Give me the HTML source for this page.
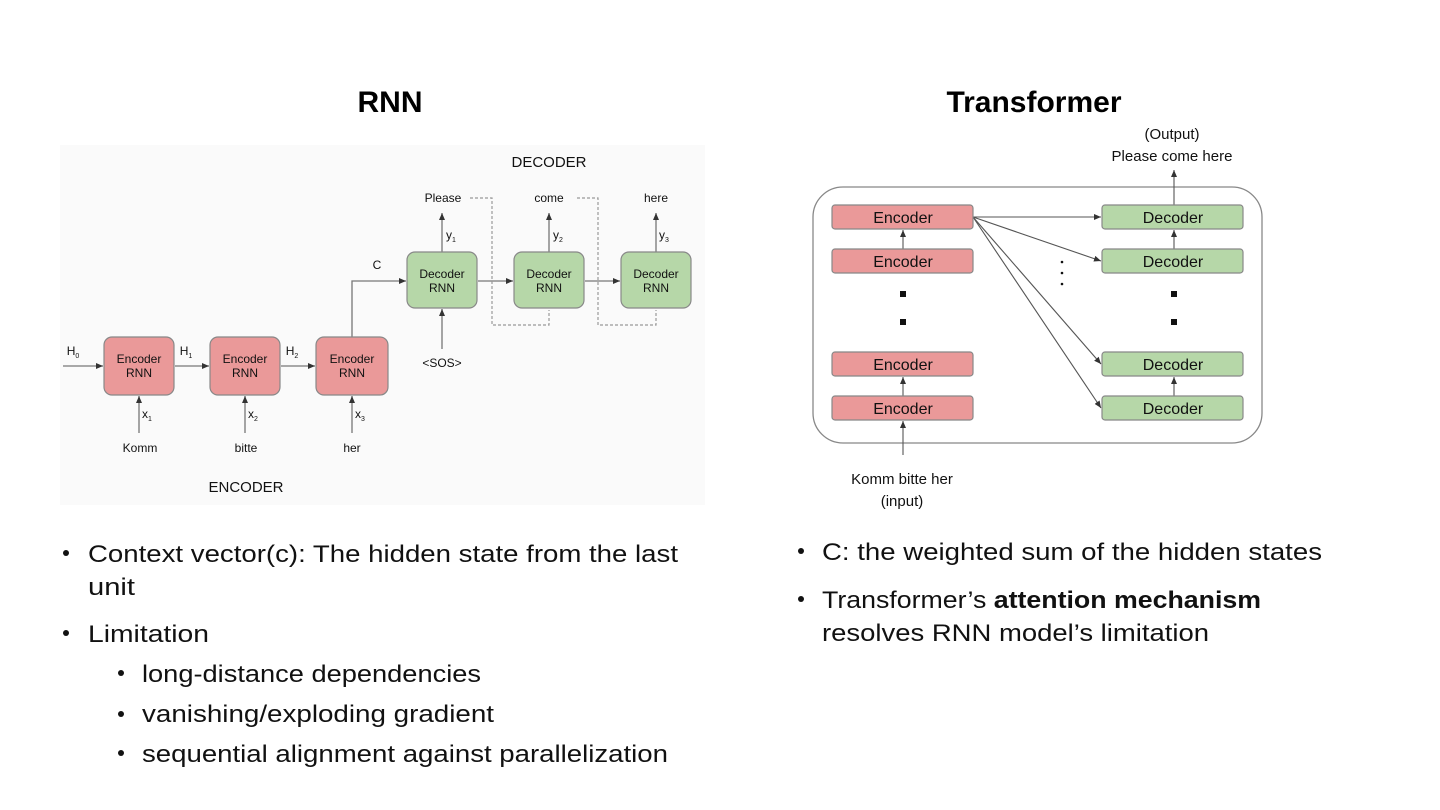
<!DOCTYPE html>
<html><head><meta charset="utf-8"><style>
html,body{margin:0;padding:0;background:#fff;}
svg{display:block;font-family:"Liberation Sans",sans-serif;}
</style></head><body>
<svg width="1440" height="810" viewBox="0 0 1440 810" xmlns="http://www.w3.org/2000/svg">
<defs>
<marker id="a" markerWidth="8" markerHeight="8" refX="7" refY="4" orient="auto" markerUnits="userSpaceOnUse"><path d="M0,1 L7,4 L0,7 z" fill="#333"/></marker>
</defs>
<rect width="1440" height="810" fill="#fff"/>
<text x="390" y="112" font-size="30" font-weight="bold" text-anchor="middle">RNN</text>
<text x="1034" y="112" font-size="30" font-weight="bold" text-anchor="middle">Transformer</text>

<!-- RNN diagram -->
<rect x="60" y="145" width="645" height="360" fill="#fafafa"/>
<g font-size="12" fill="#111" text-anchor="middle">
<text x="549" y="167" font-size="15">DECODER</text>
<text x="246" y="492" font-size="15">ENCODER</text>
</g>
<g stroke="#777" stroke-width="1.3" fill="none">
<line x1="63" y1="366" x2="103" y2="366" marker-end="url(#a)"/>
<line x1="175" y1="366" x2="209" y2="366" marker-end="url(#a)"/>
<line x1="281" y1="366" x2="315" y2="366" marker-end="url(#a)"/>
<polyline points="352,337 352,281 406,281" marker-end="url(#a)"/>
<line x1="478" y1="281" x2="513" y2="281" marker-end="url(#a)"/>
<line x1="585" y1="281" x2="620" y2="281" marker-end="url(#a)"/>
<line x1="139" y1="433" x2="139" y2="396" marker-end="url(#a)"/>
<line x1="245" y1="433" x2="245" y2="396" marker-end="url(#a)"/>
<line x1="352" y1="433" x2="352" y2="396" marker-end="url(#a)"/>
<line x1="442" y1="349" x2="442" y2="309" marker-end="url(#a)"/>
<line x1="442" y1="252" x2="442" y2="213" marker-end="url(#a)"/>
<line x1="549" y1="252" x2="549" y2="213" marker-end="url(#a)"/>
<line x1="656" y1="252" x2="656" y2="213" marker-end="url(#a)"/>
</g>
<g stroke="#999" stroke-width="1.2" fill="none" stroke-dasharray="3,2">
<polyline points="470,198 492,198 492,325 549,325 549,310"/>
<polyline points="577,198 598,198 598,325 656,325 656,310"/>
</g>
<g stroke="#888" stroke-width="1.2">
<rect x="104" y="337" width="70" height="58" rx="8" fill="#ea9999"/>
<rect x="210" y="337" width="70" height="58" rx="8" fill="#ea9999"/>
<rect x="316" y="337" width="72" height="58" rx="8" fill="#ea9999"/>
<rect x="407" y="252" width="70" height="56" rx="8" fill="#b6d7a8"/>
<rect x="514" y="252" width="70" height="56" rx="8" fill="#b6d7a8"/>
<rect x="621" y="252" width="70" height="56" rx="8" fill="#b6d7a8"/>
</g>
<g font-size="12" fill="#111" text-anchor="middle">
<text x="139" y="363">Encoder</text><text x="139" y="377">RNN</text>
<text x="245" y="363">Encoder</text><text x="245" y="377">RNN</text>
<text x="352" y="363">Encoder</text><text x="352" y="377">RNN</text>
<text x="442" y="278">Decoder</text><text x="442" y="292">RNN</text>
<text x="549" y="278">Decoder</text><text x="549" y="292">RNN</text>
<text x="656" y="278">Decoder</text><text x="656" y="292">RNN</text>
<text x="443" y="202">Please</text><text x="549" y="202">come</text><text x="656" y="202">here</text>
<text x="442" y="367">&lt;SOS&gt;</text>
<text x="140" y="452">Komm</text><text x="246" y="452">bitte</text><text x="352" y="452">her</text>
<text x="377" y="269">C</text>
<text x="73" y="355">H<tspan font-size="7" dy="3">0</tspan></text>
<text x="186" y="355">H<tspan font-size="7" dy="3">1</tspan></text>
<text x="292" y="355">H<tspan font-size="7" dy="3">2</tspan></text>
<text x="147" y="418">x<tspan font-size="7" dy="3">1</tspan></text>
<text x="253" y="418">x<tspan font-size="7" dy="3">2</tspan></text>
<text x="360" y="418">x<tspan font-size="7" dy="3">3</tspan></text>
<text x="451" y="239">y<tspan font-size="7" dy="3">1</tspan></text>
<text x="558" y="239">y<tspan font-size="7" dy="3">2</tspan></text>
<text x="664" y="239">y<tspan font-size="7" dy="3">3</tspan></text>
</g>

<!-- Transformer diagram -->
<rect x="813" y="187" width="449" height="256" rx="30" fill="none" stroke="#888" stroke-width="1.3"/>
<g stroke="#555" stroke-width="1.1" fill="none">
<line x1="1174" y1="205" x2="1174" y2="170" marker-end="url(#a)"/>
<line x1="903" y1="455" x2="903" y2="421" marker-end="url(#a)"/>
<line x1="903" y1="249" x2="903" y2="230" marker-end="url(#a)"/>
<line x1="903" y1="396" x2="903" y2="377" marker-end="url(#a)"/>
<line x1="1174" y1="249" x2="1174" y2="230" marker-end="url(#a)"/>
<line x1="1174" y1="396" x2="1174" y2="377" marker-end="url(#a)"/>
<line x1="973" y1="217" x2="1101" y2="217" marker-end="url(#a)"/>
<line x1="973" y1="217" x2="1101" y2="261" marker-end="url(#a)"/>
<line x1="973" y1="217" x2="1101" y2="364" marker-end="url(#a)"/>
<line x1="973" y1="217" x2="1101" y2="408" marker-end="url(#a)"/>
</g>
<g stroke="#888" stroke-width="1.2">
<rect x="832" y="205" width="141" height="24" rx="3" fill="#ea9999"/>
<rect x="832" y="249" width="141" height="24" rx="3" fill="#ea9999"/>
<rect x="832" y="352" width="141" height="24" rx="3" fill="#ea9999"/>
<rect x="832" y="396" width="141" height="24" rx="3" fill="#ea9999"/>
<rect x="1102" y="205" width="141" height="24" rx="3" fill="#b6d7a8"/>
<rect x="1102" y="249" width="141" height="24" rx="3" fill="#b6d7a8"/>
<rect x="1102" y="352" width="141" height="24" rx="3" fill="#b6d7a8"/>
<rect x="1102" y="396" width="141" height="24" rx="3" fill="#b6d7a8"/>
</g>
<g fill="#111">
<rect x="900" y="291" width="6" height="6"/><rect x="900" y="319" width="6" height="6"/>
<rect x="1171" y="291" width="6" height="6"/><rect x="1171" y="319" width="6" height="6"/>
<circle cx="1062" cy="262" r="1.3"/><circle cx="1062" cy="273" r="1.3"/><circle cx="1062" cy="284" r="1.3"/>
</g>
<g font-size="16" fill="#111" text-anchor="middle">
<text x="903" y="223">Encoder</text><text x="903" y="267">Encoder</text>
<text x="903" y="370">Encoder</text><text x="903" y="414">Encoder</text>
<text x="1173" y="223">Decoder</text><text x="1173" y="267">Decoder</text>
<text x="1173" y="370">Decoder</text><text x="1173" y="414">Decoder</text>
<text x="1172" y="139" font-size="15">(Output)</text>
<text x="1172" y="161" font-size="15">Please come here</text>
<text x="902" y="484" font-size="15">Komm bitte her</text>
<text x="902" y="506" font-size="15">(input)</text>
</g>

<!-- Bullets -->
<g font-size="24" fill="#111">
<circle cx="66" cy="553" r="3"/>
<text x="88" y="562" textLength="590" lengthAdjust="spacingAndGlyphs">Context vector(c): The hidden state from the last</text>
<text x="88" y="595" textLength="47" lengthAdjust="spacingAndGlyphs">unit</text>
<circle cx="66" cy="633" r="3"/>
<text x="88" y="642" textLength="121" lengthAdjust="spacingAndGlyphs">Limitation</text>
<circle cx="121" cy="673" r="3"/>
<text x="142" y="682" textLength="339" lengthAdjust="spacingAndGlyphs">long-distance dependencies</text>
<circle cx="121" cy="714" r="3"/>
<text x="142" y="722" textLength="352" lengthAdjust="spacingAndGlyphs">vanishing/exploding gradient</text>
<circle cx="121" cy="753" r="3"/>
<text x="142" y="762" textLength="526" lengthAdjust="spacingAndGlyphs">sequential alignment against parallelization</text>
<circle cx="801" cy="551" r="3"/>
<text x="822" y="560" textLength="500" lengthAdjust="spacingAndGlyphs">C: the weighted sum of the hidden states</text>
<circle cx="801" cy="599" r="3"/>
<text x="822" y="608" textLength="439" lengthAdjust="spacingAndGlyphs">Transformer’s <tspan font-weight="bold">attention mechanism</tspan></text>
<text x="822" y="641" textLength="387" lengthAdjust="spacingAndGlyphs">resolves RNN model’s limitation</text>
</g>
</svg>
</body></html>
